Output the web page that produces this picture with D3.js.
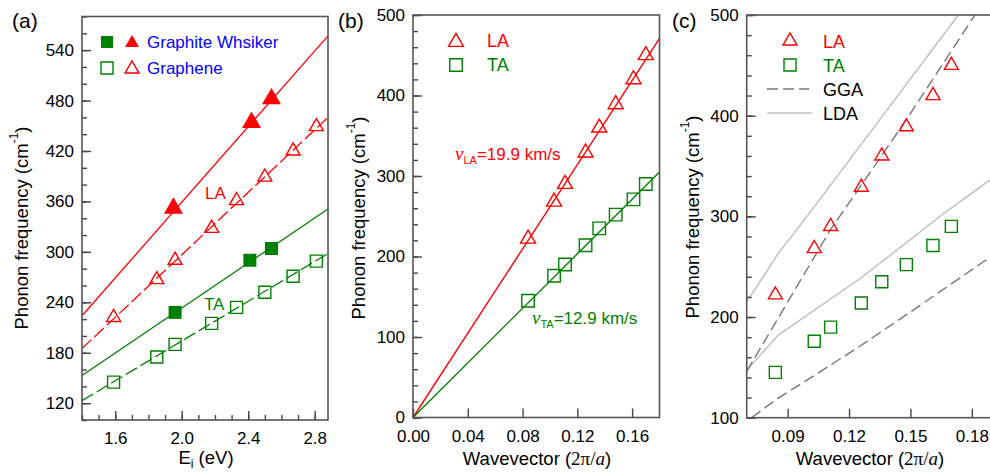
<!DOCTYPE html>
<html>
<head>
<meta charset="utf-8">
<script src="https://cdn.jsdelivr.net/npm/d3@7/dist/d3.min.js"></script>
<style>
  html, body { margin: 0; padding: 0; background: #fff; }
  svg { display: block; font-family: "Liberation Sans", Arial, sans-serif; }
  .tick text { font-size: 17px; fill: #000; }
  .tick line { stroke: #444; stroke-width: 1.4; }
</style>
</head>
<body>
<script>
// ---------- Panel (a): frequency vs. excitation energy ----------
const energyGraphiteLA = [1.95, 2.42, 2.54];
const graphiteLA = [352, 454, 482];
const energyGraphiteTA = [1.96, 2.41, 2.54];
const graphiteTA = [228, 290, 304];
const energyGraphene = [1.59, 1.85, 1.96, 2.18, 2.33, 2.50, 2.67, 2.81];
const grapheneLA = [222, 267, 290, 328, 361, 389, 420, 449];
const grapheneTA = [145, 175, 190, 215, 234, 252, 271, 289];
// linear fits, given by their end points
const fitEnergy = [1.4, 2.88];
const fitGraphiteLA = [224, 557];
const fitGrapheneLA = [185, 460];
const fitGraphiteTA = [153, 351];
const fitGrapheneTA = [123, 298];
const energyTicks = [1.6, 2.0, 2.4, 2.8];
const freqTicksA = [120, 180, 240, 300, 360, 420, 480, 540];

// ---------- Panels (b), (c): dispersion ----------
const wavevector = [0.084, 0.103, 0.111, 0.126, 0.136, 0.148, 0.161, 0.170];
const freqLA = [222, 268, 290, 329, 360, 389, 420, 450];
const freqTA = [145, 176, 190, 214, 235, 252, 271, 290];
const fitQ = [0, 0.18];
const fitLA = [0, 471];
const fitTA = [0, 305];
const qTicksB = [0, 0.04, 0.08, 0.12, 0.16];
const freqTicksB = [0, 100, 200, 300, 400, 500];

// calculated branches (GGA and LDA)
const ggaLAq = [0.07, 0.0912, 0.111, 0.126, 0.148, 0.1815];
const ggaLA = [146, 219, 287, 331, 396, 500];
const ggaTAq = [0.0724, 0.085, 0.100, 0.1253, 0.150, 0.190];
const ggaTA = [100, 119, 138, 171, 205, 261];
const ldaLAq = [0.07, 0.0854, 0.1017, 0.1734];
const ldaLA = [215, 263, 306, 500];
const ldaTAq = [0.07, 0.0854, 0.1253, 0.1677, 0.190];
const ldaTA = [147, 182, 238, 305, 338];
const qTicksC = [0.09, 0.12, 0.15, 0.18];
const freqTicksC = [100, 200, 300, 400, 500];

const RED = "#ff0000", GREEN = "#008000", BLUE = "#0000ff";
const FRAME = "#555";

const svg = d3.select("body").append("svg")
  .attr("width", 990).attr("height", 472);

const tri = (side) => d3.symbol().type(d3.symbolTriangle).size(side * side * Math.sqrt(3) / 4)();
const sqr = (side) => d3.symbol().type(d3.symbolSquare).size(side * side)();

function range(a, b, step) {
  const out = [];
  for (let v = a; v <= b + step * 1e-6; v += step) out.push(+v.toFixed(6));
  return out;
}

function drawAxes(g, x, y, opt) {
  const [x0, x1] = x.range(), [y1, y0] = y.range();
  // minor ticks
  g.append("g").attr("transform", `translate(0,${y1})`)
    .call(d3.axisBottom(x).tickValues(opt.xMinor).tickSize(-5).tickFormat(""))
    .call(s => s.select(".domain").remove());
  g.append("g").attr("transform", `translate(${x0},0)`)
    .call(d3.axisLeft(y).tickValues(opt.yMinor).tickSize(-5).tickFormat(""))
    .call(s => s.select(".domain").remove());
  // major ticks with labels
  g.append("g").attr("transform", `translate(0,${y1})`)
    .call(d3.axisBottom(x).tickValues(opt.xMajor).tickSize(-9).tickPadding(12).tickFormat(opt.xFmt))
    .call(s => s.select(".domain").remove());
  g.append("g").attr("transform", `translate(${x0},0)`)
    .call(d3.axisLeft(y).tickValues(opt.yMajor).tickSize(-9).tickPadding(8).tickFormat(d3.format("d")))
    .call(s => s.select(".domain").remove());
  // frame
  g.append("rect").attr("x", x0).attr("y", y0).attr("width", x1 - x0).attr("height", y1 - y0)
    .attr("fill", "none").attr("stroke", FRAME).attr("stroke-width", 1.6);
}

function yTitle(g, cx, cy) {
  const t = g.append("text").attr("transform", `translate(${cx},${cy}) rotate(-90)`)
    .attr("text-anchor", "middle").attr("dominant-baseline", "central")
    .attr("font-size", 18.5).attr("fill", "#000");
  t.append("tspan").text("Phonon frequency (cm");
  t.append("tspan").attr("font-size", 12).attr("dy", -7).text("-1");
  t.append("tspan").attr("dy", 7).text(")");
}

function qTitle(g, cx, by) {
  const t = g.append("text").attr("x", cx).attr("y", by).attr("text-anchor", "middle")
    .attr("font-size", 18.5).attr("fill", "#000");
  t.append("tspan").text("Wavevector (");
  t.append("tspan").attr("font-family", "'Liberation Serif', 'Times New Roman', serif").attr("font-size", 19).text("2\u03c0/");
  t.append("tspan").attr("font-family", "'Liberation Serif', 'Times New Roman', serif").attr("font-style", "italic").attr("font-size", 19).text("a");
  t.append("tspan").text(")");
}

function panelLabel(x, y, s) {
  svg.append("text").attr("x", x).attr("y", y).attr("font-size", 21).attr("fill", "#000").text(s);
}

const line = (x, y) => d3.line().x(d => x(d[0])).y(d => y(d[1]));
const zip = (a, b) => a.map((v, i) => [v, b[i]]);

// ================= Panel (a) =================
{
  const g = svg.append("g");
  const x = d3.scaleLinear().domain([1.4, 2.88]).range([82, 328]);
  const y = d3.scaleLinear().domain([100, 580]).range([420, 16.5]);
  const L = line(x, y);

  g.append("path").attr("d", L(zip(fitEnergy, fitGraphiteLA))).attr("fill", "none").attr("stroke", RED).attr("stroke-width", 1.3);
  g.append("path").attr("d", L(zip(fitEnergy, fitGrapheneLA))).attr("fill", "none").attr("stroke", RED).attr("stroke-width", 1.3).attr("stroke-dasharray", "13,4");
  g.append("path").attr("d", L(zip(fitEnergy, fitGraphiteTA))).attr("fill", "none").attr("stroke", GREEN).attr("stroke-width", 1.3);
  g.append("path").attr("d", L(zip(fitEnergy, fitGrapheneTA))).attr("fill", "none").attr("stroke", GREEN).attr("stroke-width", 1.3).attr("stroke-dasharray", "13,4");

  drawAxes(g, x, y, {
    xMajor: energyTicks, xMinor: range(1.4, 2.8, 0.1), xFmt: d3.format(".1f"),
    yMajor: freqTicksA, yMinor: range(100, 580, 20)
  });

  g.selectAll(".gLA").data(zip(energyGraphiteLA, graphiteLA)).join("path")
    .attr("d", tri(19)).attr("transform", d => `translate(${x(d[0])},${y(d[1])})`).attr("fill", RED);
  g.selectAll(".gTA").data(zip(energyGraphiteTA, graphiteTA)).join("path")
    .attr("d", sqr(13)).attr("transform", d => `translate(${x(d[0])},${y(d[1])})`).attr("fill", GREEN);
  g.selectAll(".nLA").data(zip(energyGraphene, grapheneLA)).join("path")
    .attr("d", tri(14)).attr("transform", d => `translate(${x(d[0])},${y(d[1])})`)
    .attr("fill", "none").attr("stroke", RED).attr("stroke-width", 1.4);
  g.selectAll(".nTA").data(zip(energyGraphene, grapheneTA)).join("path")
    .attr("d", sqr(12)).attr("transform", d => `translate(${x(d[0])},${y(d[1])})`)
    .attr("fill", "none").attr("stroke", GREEN).attr("stroke-width", 1.4);

  // legend
  g.append("path").attr("d", sqr(12)).attr("transform", "translate(107,42)").attr("fill", GREEN);
  g.append("path").attr("d", tri(14)).attr("transform", "translate(132,43)").attr("fill", RED);
  g.append("text").attr("x", 147).attr("y", 48).attr("font-size", 17).attr("fill", BLUE).text("Graphite Whsiker");
  g.append("path").attr("d", sqr(12)).attr("transform", "translate(107,68)")
    .attr("fill", "none").attr("stroke", GREEN).attr("stroke-width", 1.4);
  g.append("path").attr("d", tri(14)).attr("transform", "translate(132,69)")
    .attr("fill", "none").attr("stroke", RED).attr("stroke-width", 1.4);
  g.append("text").attr("x", 147).attr("y", 74).attr("font-size", 17).attr("fill", BLUE).text("Graphene");

  g.append("text").attr("x", 205).attr("y", 199).attr("font-size", 17).attr("fill", RED).text("LA");
  g.append("text").attr("x", 204).attr("y", 310).attr("font-size", 17).attr("fill", GREEN).text("TA");

  yTitle(g, 21, 228);
  const t = g.append("text").attr("x", 206).attr("y", 464).attr("text-anchor", "middle")
    .attr("font-size", 18.5).attr("fill", "#000");
  t.append("tspan").text("E");
  t.append("tspan").attr("font-size", 12).attr("dy", 4).text("i");
  t.append("tspan").attr("dy", -4).text(" (eV)");
  panelLabel(12, 28, "(a)");
}

// ================= Panel (b) =================
{
  const g = svg.append("g");
  const x = d3.scaleLinear().domain([0, 0.18]).range([413, 659.5]);
  const y = d3.scaleLinear().domain([0, 500]).range([417.5, 15]);
  const L = line(x, y);

  g.append("path").attr("d", L(zip(fitQ, fitLA))).attr("fill", "none").attr("stroke", RED).attr("stroke-width", 1.4);
  g.append("path").attr("d", L(zip(fitQ, fitTA))).attr("fill", "none").attr("stroke", GREEN).attr("stroke-width", 1.4);

  drawAxes(g, x, y, {
    xMajor: qTicksB, xMinor: [], xFmt: d3.format(".2f"),
    yMajor: freqTicksB, yMinor: range(0, 500, 20)
  });

  g.selectAll(".la").data(zip(wavevector, freqLA)).join("path")
    .attr("d", tri(15)).attr("transform", d => `translate(${x(d[0])},${y(d[1])})`)
    .attr("fill", "none").attr("stroke", RED).attr("stroke-width", 1.4);
  g.selectAll(".ta").data(zip(wavevector, freqTA)).join("path")
    .attr("d", sqr(12.5)).attr("transform", d => `translate(${x(d[0])},${y(d[1])})`)
    .attr("fill", "none").attr("stroke", GREEN).attr("stroke-width", 1.4);

  g.append("path").attr("d", tri(15)).attr("transform", "translate(456,42)")
    .attr("fill", "none").attr("stroke", RED).attr("stroke-width", 1.4);
  g.append("text").attr("x", 487).attr("y", 47).attr("font-size", 18).attr("fill", RED).text("LA");
  g.append("path").attr("d", sqr(12.5)).attr("transform", "translate(456,65)")
    .attr("fill", "none").attr("stroke", GREEN).attr("stroke-width", 1.4);
  g.append("text").attr("x", 487).attr("y", 71).attr("font-size", 18).attr("fill", GREEN).text("TA");

  function velocity(xp, yp, sub, val, col) {
    const t = g.append("text").attr("x", xp).attr("y", yp).attr("font-size", 17).attr("fill", col);
    t.append("tspan").attr("font-family", "'Liberation Serif', 'Times New Roman', serif").attr("font-style", "italic").attr("font-size", 19).text("\u03bd");
    t.append("tspan").attr("font-size", 11).attr("dy", 4).text(sub);
    t.append("tspan").attr("dy", -4).text(val);
  }
  velocity(455, 160, "LA", "=19.9 km/s", RED);
  velocity(532, 324, "TA", "=12.9 km/s", GREEN);

  yTitle(g, 358, 218);
  qTitle(g, 537, 465);
  panelLabel(338, 28, "(b)");
}

// ================= Panel (c) =================
{
  const g = svg.append("g");
  const x = d3.scaleLinear().domain([0.07, 0.19]).range([746.7, 992.3]);
  const y = d3.scaleLinear().domain([100, 500]).range([417.7, 15]);
  const L = line(x, y);

  const curve = (q, f, dash, col) => g.append("path").attr("d", L(zip(q, f)))
    .attr("fill", "none").attr("stroke", col).attr("stroke-width", 1.4).attr("stroke-dasharray", dash);
  curve(ldaLAq, ldaLA, null, "#bdbdbd");
  curve(ldaTAq, ldaTA, null, "#bdbdbd");
  curve(ggaLAq, ggaLA, "11,5", "#777");
  curve(ggaTAq, ggaTA, "11,5", "#777");

  drawAxes(g, x, y, {
    xMajor: qTicksC, xMinor: [], xFmt: d3.format(".2f"),
    yMajor: freqTicksC, yMinor: range(100, 500, 20)
  });

  g.selectAll(".la").data(zip(wavevector, freqLA)).join("path")
    .attr("d", tri(14)).attr("transform", d => `translate(${x(d[0])},${y(d[1])})`)
    .attr("fill", "none").attr("stroke", RED).attr("stroke-width", 1.4);
  g.selectAll(".ta").data(zip(wavevector, freqTA)).join("path")
    .attr("d", sqr(12)).attr("transform", d => `translate(${x(d[0])},${y(d[1])})`)
    .attr("fill", "none").attr("stroke", GREEN).attr("stroke-width", 1.4);

  g.append("path").attr("d", tri(14)).attr("transform", "translate(790,41)")
    .attr("fill", "none").attr("stroke", RED).attr("stroke-width", 1.4);
  g.append("text").attr("x", 823).attr("y", 48).attr("font-size", 18).attr("fill", RED).text("LA");
  g.append("path").attr("d", sqr(12)).attr("transform", "translate(790,65)")
    .attr("fill", "none").attr("stroke", GREEN).attr("stroke-width", 1.4);
  g.append("text").attr("x", 823).attr("y", 72).attr("font-size", 18).attr("fill", GREEN).text("TA");
  g.append("line").attr("x1", 767).attr("x2", 809).attr("y1", 89).attr("y2", 89)
    .attr("stroke", "#777").attr("stroke-width", 1.4).attr("stroke-dasharray", "11,5");
  g.append("text").attr("x", 823).attr("y", 96).attr("font-size", 18).attr("fill", "#000").text("GGA");
  g.append("line").attr("x1", 767).attr("x2", 812).attr("y1", 113).attr("y2", 113)
    .attr("stroke", "#bdbdbd").attr("stroke-width", 1.4);
  g.append("text").attr("x", 823).attr("y", 120).attr("font-size", 18).attr("fill", "#000").text("LDA");

  yTitle(g, 692, 217);
  qTitle(g, 870, 465);
  panelLabel(672, 28, "(c)");
}
</script>
</body>
</html>
